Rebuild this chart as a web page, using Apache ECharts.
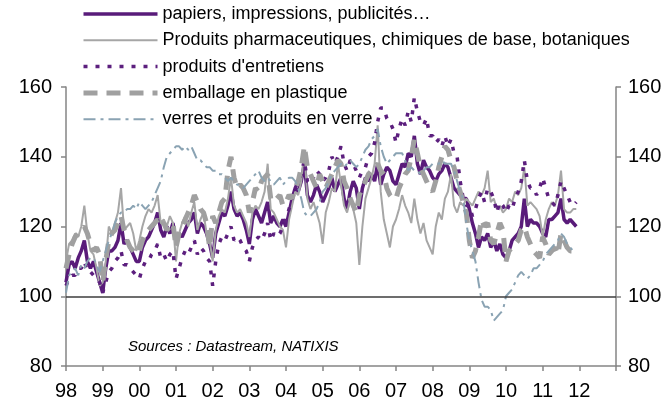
<!DOCTYPE html>
<html>
<head>
<meta charset="utf-8">
<script src="https://cdn.jsdelivr.net/npm/echarts@6/dist/echarts.min.js"></script>
<style>
  html, body { margin: 0; padding: 0; background: #fff; }
  #chart { width: 670px; height: 407px; }
</style>
</head>
<body>
<div id="chart"></div>
<script>
// monthly index values, Jan 1998 -> Dec 2011 (one row per year)
const YEARS = ['98', '99', '00', '01', '02', '03', '04', '05', '06', '07', '08', '09', '10', '11', '12']

const papiers = [
  104, 109, 110, 108, 111, 113, 116, 110, 108, 110, 107, 104,
  101, 108, 113, 113, 114, 116, 121, 115, 116, 114, 112, 110,
  110, 114, 116, 117, 119, 121, 124, 119, 117, 120, 118, 121,
  116, 118, 117, 119, 121, 122, 124, 118, 121, 120, 118, 115,
  111, 118, 121, 124, 123, 126, 130, 125, 123, 124, 122, 119,
  115, 122, 125, 123, 121, 124, 127, 121, 123, 121, 120, 122,
  120, 124, 128, 131, 130, 133, 138, 129, 127, 129, 132, 130,
  127, 129, 131, 134, 130, 132, 134, 128, 125, 130, 133, 131,
  125, 131, 134, 133, 135, 133, 138, 132, 135, 137, 136, 133,
  132, 135, 138, 137, 141, 140, 146, 138, 135, 139, 137, 136,
  134, 133, 135, 136, 138, 137, 134, 131, 130, 129, 128, 128,
  125, 121, 118, 114, 117, 116, 118, 114, 116, 113, 115, 112,
  111, 113, 116, 117, 118, 120, 128, 120, 122, 121, 121, 120,
  118, 117, 122, 122, 123, 124, 128, 122, 121, 122, 121, 120,
]

const pharma = [
  110, 115, 116, 118, 117, 120, 126, 118, 113, 112, 108, 103,
  104, 110, 120, 118, 121, 124, 131, 119, 120, 121, 118, 113,
  116, 120, 123, 125, 124, 126, 129, 121, 122, 120, 123, 121,
  110, 118, 121, 123, 120, 124, 127, 119, 122, 124, 118, 116,
  110, 119, 123, 125, 124, 128, 134, 126, 124, 125, 123, 121,
  117, 124, 126, 125, 127, 130, 138, 125, 124, 122, 120, 119,
  114, 122, 126, 130, 129, 133, 142, 128, 125, 127, 124, 121,
  115, 124, 127, 131, 130, 138, 132, 126, 124, 128, 125, 121,
  109, 120, 128, 131, 134, 138, 149, 130, 122, 118, 114, 120,
  122, 125, 129, 126, 124, 121, 128, 122, 118, 121, 116, 114,
  112, 120, 124, 122, 128, 130, 135, 126, 124, 127, 126, 128,
  127, 126, 128, 130, 129, 131, 136, 127, 128, 125, 126, 124,
  125, 128, 127, 130, 129, 131, 137, 126, 127, 126, 125, 123,
  117, 122, 125, 127, 126, 129, 136, 125, 124, 124, 125, 125,
]

const entretiens = [
  103, 105, 106, 106, 108, 108, 110, 107, 107, 106, 105, 104,
  101, 104, 107, 108, 110, 111, 113, 109, 109, 108, 107, 106,
  105, 108, 110, 110, 112, 113, 115, 111, 112, 110, 112, 113,
  105, 108, 111, 113, 112, 114, 116, 112, 114, 113, 111, 110,
  103, 110, 115, 117, 116, 118, 120, 116, 117, 116, 114, 113,
  110, 114, 116, 117, 116, 118, 121, 116, 118, 117, 118, 120,
  122, 125, 128, 131, 133, 135, 139, 133, 132, 134, 136, 135,
  133, 134, 136, 140, 138, 140, 143, 138, 136, 139, 138, 136,
  134, 136, 137, 140, 141, 144, 150, 154, 154, 151, 150, 148,
  144, 148, 151, 149, 153, 150, 157, 153, 150, 149, 151, 146,
  146, 144, 145, 143, 146, 143, 145, 141, 140, 133, 128, 126,
  126, 123, 125, 128, 130, 127, 131, 130, 128, 124, 127, 126,
  124, 126, 125, 128, 130, 133, 139, 133, 131, 131, 129, 131,
  134, 131, 128, 127, 126, 129, 133, 131, 129, 127, 126, 127,
]

const emballage = [
  108, 112, 115, 117, 118, 119, 120, 118, 115, 113, 114, 112,
  104, 110, 116, 118, 119, 121, 123, 119, 116, 114, 113, 112,
  113, 116, 118, 119, 120, 121, 122, 120, 121, 119, 120, 121,
  114, 118, 120, 122, 124, 126, 129, 127, 125, 124, 121, 114,
  123, 121, 124, 127, 128, 136, 140, 134, 131, 132, 131, 129,
  124, 127, 131, 130, 133, 134, 135, 128, 127, 128, 129, 126,
  127, 129, 128, 131, 133, 137, 143, 137, 135, 133, 131, 135,
  133, 131, 133, 135, 137, 139, 138, 133, 131, 128, 126, 124,
  129, 131, 133, 135, 136, 137, 138, 136, 135, 131, 129, 128,
  128, 131, 133, 135, 136, 140, 145, 141, 137, 135, 133, 131,
  130, 133, 137, 140, 143, 142, 139, 137, 133, 130, 127, 124,
  116, 111, 113, 117, 122, 120, 121, 116, 115, 118, 121, 119,
  110, 113, 114, 115, 116, 119, 120, 117, 115, 113, 112, 111,
  117, 115, 112, 113, 114, 112, 118, 116, 114, 113, 113, 113,
]

const verres = [
  101, 106, 107, 108, 106, 109, 108, 110, 111, 111, 109, 107,
  110, 113, 116, 118, 121, 123, 124, 124, 125, 125, 126, 125,
  127, 126, 125, 126, 127, 129, 131, 133, 137, 140, 141, 142,
  143, 143, 142, 143, 142, 143, 141, 139, 139, 138, 137, 137,
  136, 136, 135, 135, 134, 133, 134, 133, 132, 132, 131, 132,
  133, 134, 135, 136, 134, 133, 134, 133, 132, 133, 134, 132,
  133, 134, 134, 133, 131, 128, 124, 123, 123, 124, 125, 127,
  130, 131, 133, 135, 136, 137, 138, 137, 138, 139, 138, 137,
  138, 140, 142, 143, 145, 146, 148, 143, 140, 138, 139, 140,
  141, 141, 141, 139, 136, 137, 136, 136, 135, 136, 137, 137,
  138, 138, 138, 139, 138, 138, 138, 136, 133, 130, 128, 121,
  116, 113, 110, 104, 99, 97, 97, 96, 93, 94, 95, 96,
  100, 101, 102, 104, 106, 107, 106, 105, 106, 108, 108, 109,
  110, 112, 113, 114, 115, 116, 118, 117, 115, 114, 113, 113,
]

const FONT = '"Liberation Sans", Arial, sans-serif'
const AXIS = '#858585'
const CURVES = [
  { name: 'papiers, impressions, publicités…', data: papiers, color: '#591b7a', width: 3.5, type: 'solid' },
  { name: 'Produits pharmaceutiques, chimiques de base, botaniques', data: pharma, color: '#a6a6a6', width: 2, type: 'solid' },
  { name: "produits d'entretiens", data: entretiens, color: '#5c1f7e', width: 3.5, type: [4, 8] },
  { name: 'emballage en plastique', data: emballage, color: '#a0a0a0', width: 5, type: [14, 9] },
  { name: 'verres et produits en verre', data: verres, color: '#8aa3b3', width: 2, type: [12, 5, 3, 5] },
]

const chart = echarts.init(document.getElementById('chart'))

const yAxisBase = {
  type: 'value', min: 80, max: 160, interval: 20,
  axisLine: { show: true, lineStyle: { color: AXIS, width: 1.5 } },
  axisTick: { show: true, length: 5, lineStyle: { color: AXIS, width: 1.5 } },
  axisLabel: { color: '#000', fontSize: 20, fontFamily: FONT },
  splitLine: { show: false },
}

chart.setOption({
  animation: false,
  backgroundColor: '#fff',
  textStyle: { fontFamily: FONT },
  grid: { left: 66, right: 54, top: 87, bottom: 41 },
  legend: {
    orient: 'vertical', left: 81, top: 4, padding: 0,
    itemWidth: 74, itemHeight: 14, itemGap: 6.3,
    textStyle: { fontSize: 18, color: '#000', fontFamily: FONT, lineHeight: 20 },
    selectedMode: false,
    // 圖例只畫線段，不要中間的圓點
    data: CURVES.map(c => ({
      name: c.name,
      lineStyle: { width: c.width, type: c.type, color: c.color },
      itemStyle: { opacity: 0 },
    })),
  },
  xAxis: {
    type: 'value', min: 0, max: 180, interval: 12,
    axisLine: { lineStyle: { color: AXIS, width: 1.5 } },
    axisTick: { show: true, length: 5, lineStyle: { color: AXIS, width: 1.5 } },
    axisLabel: {
      color: '#000', fontSize: 20, fontFamily: FONT, margin: 15,
      formatter: v => YEARS[v / 12] || '',
    },
    splitLine: { show: false },
  },
  yAxis: [
    Object.assign({}, yAxisBase, { position: 'left', axisLabel: Object.assign({}, yAxisBase.axisLabel, { margin: 14 }) }),
    Object.assign({}, yAxisBase, { position: 'right', axisLabel: Object.assign({}, yAxisBase.axisLabel, { margin: 12 }) }),
  ],
  graphic: [{
    type: 'text', left: 128, top: 339,
    style: { text: 'Sources : Datastream, NATIXIS', font: 'italic 15px ' + FONT, fill: '#000' },
  }],
  series: CURVES.map((c, k) => ({
    name: c.name, type: 'line', symbol: 'none', smooth: false,
    data: c.data.map((v, i) => [i, v]),
    lineStyle: { width: c.width, color: c.color, type: c.type },
    itemStyle: { color: c.color },
    markLine: k === 0 ? {
      silent: true, symbol: 'none', label: { show: false },
      lineStyle: { color: '#3c3c3c', width: 1.5, type: 'solid' },
      data: [{ yAxis: 100 }],
    } : undefined,
  })),
})
</script>
</body>
</html>
